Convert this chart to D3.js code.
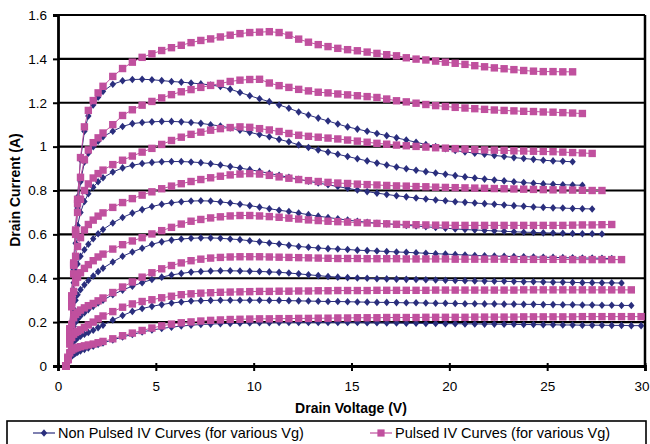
<!DOCTYPE html>
<html><head><meta charset="utf-8">
<script src="https://cdn.jsdelivr.net/npm/d3@7"></script>
<style>
body{margin:0;background:#fff;}
svg{display:block;font-family:"Liberation Sans",Arial,sans-serif;}
</style>
</head><body>
<svg id="c" width="650" height="444"></svg>
<script>
// Drain voltage grid (V)
const vd = [0.4,0.5,0.6,0.7,0.8,0.9,1.0,1.15,1.35,1.55,1.8,2.05,2.3,
  2.8,3.3,3.8,4.3,4.8,5.3,5.8,6.3,6.8,7.3,7.8,8.3,8.8,9.3,9.8,10.3,10.8,11.3,11.8,12.3,
  12.8,13.3,13.8,14.3,14.8,15.3,15.8,16.3,16.8,17.3,17.8,18.3,18.8,19.3,19.8,20.3,20.8,
  21.3,21.8,22.3,22.8,23.3,23.8,24.3,24.8,25.3,25.8,26.3,26.8,27.3,27.8,28.3,28.8,29.3,29.8];

const xTicks = [0,5,10,15,20,25,30];
const yTicks = [0,0.2,0.4,0.6,0.8,1.0,1.2,1.4,1.6];

// Non pulsed IV curves (A), one list per Vg
const np1 = [0,0.03,0.17,0.32,0.47,0.62,0.77,0.94,1.07,1.14,1.19,1.225,1.252,
  1.284,1.3,1.306,1.307,1.305,1.301,1.297,1.294,1.29,1.286,1.281,1.274,1.262,1.247,1.232,1.218,1.205,1.19,1.175,1.158,
  1.144,1.13,1.117,1.103,1.09,1.08,1.07,1.06,1.05,1.04,1.03,1.02,1.01,1.0,0.99,0.982,0.976,0.97,0.965,0.96,
  0.955,0.95,0.946,0.942,0.938,0.935,0.933,0.931];
const np2 = [0,0.03,0.16,0.31,0.46,0.6,0.72,0.84,0.93,0.97,1.0,1.025,1.045,
  1.07,1.092,1.105,1.11,1.113,1.115,1.115,1.113,1.11,1.106,1.1,1.094,1.085,1.075,1.065,1.055,1.045,1.033,1.022,1.008,
  0.996,0.985,0.975,0.965,0.955,0.945,0.935,0.925,0.916,0.907,0.899,0.892,0.886,0.88,0.874,0.868,0.862,0.857,0.852,0.848,
  0.844,0.84,0.836,0.833,0.83,0.828,0.826,0.825,0.824];
const np3 = [0,0.03,0.15,0.3,0.44,0.56,0.64,0.7,0.75,0.785,0.815,0.84,0.858,
  0.884,0.903,0.915,0.923,0.928,0.931,0.932,0.932,0.93,0.927,0.922,0.916,0.909,0.902,0.895,0.887,0.878,0.869,0.86,0.851,
  0.842,0.834,0.826,0.818,0.81,0.802,0.795,0.788,0.782,0.776,0.771,0.766,0.761,0.757,0.753,0.749,0.746,0.743,0.74,0.737,
  0.734,0.731,0.728,0.725,0.723,0.721,0.72,0.718,0.717,0.716];
const np4 = [0,0.03,0.14,0.28,0.38,0.43,0.465,0.5,0.53,0.555,0.58,0.603,0.622,
  0.652,0.677,0.697,0.713,0.727,0.737,0.744,0.749,0.752,0.753,0.752,0.748,0.743,0.737,0.731,0.724,0.717,0.71,0.704,0.697,
  0.69,0.683,0.677,0.671,0.665,0.66,0.655,0.651,0.648,0.645,0.641,0.638,0.635,0.631,0.628,0.625,0.622,0.62,0.618,0.616,
  0.614,0.612,0.61,0.609,0.607,0.606,0.605,0.604,0.603,0.603,0.602];
const np5 = [0,0.03,0.12,0.2,0.26,0.3,0.325,0.348,0.37,0.39,0.41,0.43,0.446,
  0.474,0.5,0.52,0.537,0.555,0.566,0.574,0.579,0.582,0.584,0.584,0.582,0.579,0.576,0.571,0.566,0.561,0.556,0.55,0.545,
  0.541,0.538,0.535,0.533,0.531,0.528,0.526,0.524,0.522,0.52,0.518,0.516,0.514,0.512,0.51,0.508,0.506,0.504,0.502,0.501,
  0.5,0.499,0.498,0.497,0.496,0.495,0.494,0.493,0.492,0.492,0.491,0.49];
const np6 = [0,0.03,0.1,0.15,0.18,0.2,0.213,0.228,0.243,0.257,0.272,0.287,0.3,
  0.325,0.346,0.364,0.38,0.394,0.405,0.415,0.422,0.428,0.431,0.433,0.434,0.434,0.433,0.432,0.431,0.429,0.427,0.424,0.42,
  0.416,0.412,0.408,0.405,0.403,0.401,0.4,0.398,0.397,0.396,0.395,0.394,0.393,0.392,0.391,0.39,0.389,0.388,0.387,0.386,
  0.386,0.385,0.384,0.384,0.383,0.382,0.382,0.381,0.38,0.38,0.379,0.379,0.378];
const np7 = [0,0.03,0.07,0.095,0.11,0.12,0.128,0.136,0.145,0.153,0.163,0.175,0.186,
  0.21,0.23,0.249,0.262,0.272,0.28,0.287,0.292,0.296,0.298,0.299,0.3,0.3,0.3,0.3,0.3,0.299,0.299,0.298,0.297,
  0.296,0.295,0.294,0.294,0.293,0.292,0.291,0.29,0.29,0.289,0.288,0.288,0.287,0.286,0.286,0.285,0.284,0.284,0.283,0.283,
  0.282,0.282,0.281,0.281,0.28,0.28,0.279,0.279,0.278,0.278,0.277,0.277,0.276,0.276];
const np8 = [0,0.02,0.035,0.045,0.052,0.058,0.063,0.069,0.076,0.082,0.09,0.098,0.105,
  0.119,0.132,0.144,0.155,0.164,0.171,0.177,0.182,0.186,0.189,0.191,0.193,0.194,0.195,0.196,0.197,0.197,0.198,0.198,0.198,
  0.198,0.198,0.198,0.198,0.198,0.198,0.197,0.197,0.196,0.196,0.195,0.195,0.194,0.194,0.193,0.193,0.192,0.192,0.191,0.191,
  0.19,0.19,0.189,0.189,0.188,0.188,0.187,0.187,0.186,0.186,0.186,0.185,0.185,0.184,0.184];

// Pulsed IV curves (A)
const p1 = [0,0.04,0.17,0.32,0.47,0.62,0.76,0.95,1.09,1.165,1.21,1.245,1.275,
  1.32,1.356,1.385,1.407,1.423,1.438,1.451,1.462,1.474,1.484,1.491,1.5,1.508,1.515,1.52,1.522,1.524,1.52,1.508,1.49,
  1.476,1.465,1.456,1.448,1.442,1.437,1.431,1.425,1.419,1.414,1.405,1.399,1.395,1.39,1.385,1.38,1.375,1.369,1.364,1.359,
  1.355,1.351,1.347,1.344,1.342,1.342,1.341,1.341];
const p2 = [0,0.03,0.16,0.31,0.46,0.61,0.74,0.86,0.94,0.985,1.018,1.04,1.062,
  1.1,1.142,1.168,1.189,1.206,1.222,1.237,1.25,1.26,1.27,1.279,1.288,1.297,1.303,1.306,1.307,1.29,1.278,1.27,1.261,
  1.254,1.248,1.245,1.24,1.236,1.232,1.228,1.224,1.217,1.209,1.204,1.198,1.192,1.187,1.183,1.179,1.176,1.173,1.17,1.167,
  1.165,1.163,1.161,1.16,1.158,1.157,1.155,1.153,1.151];
const p3 = [0,0.03,0.16,0.31,0.46,0.6,0.7,0.76,0.8,0.83,0.857,0.877,0.893,
  0.918,0.938,0.957,0.975,0.992,1.01,1.028,1.043,1.056,1.066,1.075,1.082,1.087,1.09,1.088,1.082,1.076,1.069,1.06,1.052,
  1.047,1.043,1.039,1.035,1.03,1.025,1.02,1.015,1.011,1.007,1.004,1.001,0.998,0.995,0.993,0.991,0.989,0.987,0.985,0.984,
  0.983,0.981,0.98,0.979,0.978,0.977,0.975,0.973,0.971,0.969];
const p4 = [0,0.03,0.15,0.29,0.42,0.5,0.545,0.585,0.62,0.645,0.665,0.683,0.698,
  0.723,0.745,0.763,0.779,0.794,0.808,0.82,0.831,0.841,0.85,0.858,0.865,0.871,0.875,0.877,0.875,0.869,0.862,0.856,0.85,
  0.845,0.841,0.837,0.834,0.832,0.829,0.827,0.825,0.823,0.821,0.82,0.818,0.817,0.815,0.814,0.813,0.812,0.811,0.81,0.809,
  0.808,0.807,0.806,0.805,0.804,0.803,0.803,0.802,0.801,0.8,0.8];
const p5 = [0,0.03,0.13,0.27,0.34,0.38,0.405,0.425,0.445,0.462,0.48,0.497,0.51,
  0.533,0.553,0.57,0.585,0.602,0.617,0.632,0.647,0.66,0.668,0.675,0.68,0.684,0.686,0.686,0.684,0.681,0.678,0.674,0.67,
  0.666,0.663,0.66,0.658,0.656,0.654,0.652,0.65,0.648,0.646,0.645,0.644,0.643,0.642,0.642,0.641,0.641,0.641,0.641,0.641,
  0.641,0.641,0.641,0.641,0.641,0.641,0.641,0.642,0.643,0.643,0.644,0.645];
const p6 = [0,0.03,0.12,0.19,0.22,0.235,0.245,0.255,0.265,0.275,0.285,0.297,0.31,
  0.335,0.36,0.383,0.405,0.425,0.443,0.458,0.47,0.48,0.487,0.492,0.495,0.497,0.498,0.498,0.498,0.497,0.496,0.495,0.494,
  0.493,0.492,0.491,0.49,0.49,0.49,0.489,0.489,0.489,0.489,0.488,0.488,0.488,0.488,0.488,0.487,0.487,0.487,0.487,0.487,
  0.487,0.486,0.486,0.486,0.486,0.486,0.486,0.485,0.485,0.485,0.485,0.485,0.485];
const p7 = [0,0.03,0.1,0.13,0.145,0.153,0.158,0.165,0.175,0.187,0.2,0.215,0.228,
  0.248,0.268,0.283,0.294,0.302,0.311,0.318,0.325,0.329,0.332,0.334,0.336,0.337,0.338,0.339,0.34,0.34,0.341,0.341,0.342,
  0.342,0.343,0.343,0.344,0.344,0.344,0.344,0.345,0.345,0.345,0.345,0.345,0.345,0.346,0.346,0.346,0.346,0.346,0.346,0.346,
  0.346,0.346,0.347,0.347,0.347,0.347,0.347,0.347,0.347,0.347,0.347,0.347,0.347,0.347];
const p8 = [0,0.03,0.06,0.072,0.078,0.082,0.085,0.088,0.092,0.096,0.1,0.106,0.112,
  0.124,0.138,0.15,0.162,0.173,0.183,0.191,0.197,0.201,0.205,0.208,0.21,0.212,0.213,0.214,0.215,0.215,0.216,0.216,0.217,
  0.217,0.218,0.218,0.219,0.219,0.22,0.22,0.22,0.221,0.221,0.221,0.221,0.222,0.222,0.222,0.222,0.222,0.223,0.223,0.223,
  0.223,0.223,0.224,0.224,0.224,0.224,0.224,0.224,0.225,0.225,0.225,0.225,0.225,0.225,0.225];

const nonPulsed = [np1,np2,np3,np4,np5,np6,np7,np8];
const pulsed = [p1,p2,p3,p4,p5,p6,p7,p8];
const seriesNames = ["Non Pulsed IV Curves (for various Vg)","Pulsed IV Curves (for various Vg)"];

const BLUE = "#2a2e7d", MAG = "#c0509e";
const svg = d3.select("#c");
const L = 58, R = 645, T = 15, B = 366;
const x = d3.scaleLinear().domain([0,30]).range([L,R]);
const y = d3.scaleLinear().domain([0,1.6]).range([B,T]);

// gridlines
svg.append("g").selectAll("line").data(yTicks.filter(d=>d>0)).join("line")
  .attr("x1",L).attr("x2",R).attr("y1",d=>y(d)).attr("y2",d=>y(d))
  .attr("stroke","#000").attr("stroke-width",2.2);
// frame right
svg.append("line").attr("x1",R).attr("x2",R).attr("y1",T).attr("y2",B).attr("stroke","#000").attr("stroke-width",2.5);

// axes
const fmt = d => String(+d.toFixed(1));
const ya = svg.append("g").attr("transform",`translate(${L},0)`)
  .call(d3.axisLeft(y).tickValues(yTicks).tickFormat(fmt).tickSize(5).tickPadding(6));
const xa = svg.append("g").attr("transform",`translate(0,${B})`)
  .call(d3.axisBottom(x).tickValues(xTicks).tickFormat(fmt).tickSize(5).tickPadding(10));
[ya,xa].forEach(g=>{
  g.select(".domain").attr("stroke","#000").attr("stroke-width",2.8);
  g.selectAll(".tick line").attr("stroke","#000").attr("stroke-width",2);
  g.selectAll(".tick text").attr("fill","#000").style("font-size","13.5px")
   .style("font-family","'Liberation Sans',Arial,sans-serif");
});
xa.selectAll(".tick line").attr("y1",-3).attr("y2",5);
// keep the last x label inside the page
xa.selectAll(".tick text").filter(d=>d===30).attr("text-anchor","end").attr("x",4);

// axis titles
svg.append("text").attr("x",351).attr("y",413).attr("text-anchor","middle")
  .style("font-weight","bold").style("font-size","14px").text("Drain Voltage (V)");
svg.append("text").attr("transform","translate(20,190) rotate(-90)").attr("text-anchor","middle")
  .style("font-weight","bold").style("font-size","14px").text("Drain Current (A)");

const diamond = "M0,-3.8L3.2,0L0,3.8L-3.2,0Z";
const line = d3.line().x((d,i)=>x(vd[i])).y(d=>y(d));

function drawFamily(data, color, isSquare){
  const g = svg.append("g");
  data.forEach(arr=>{
    g.append("path").attr("d",line(arr)).attr("fill","none").attr("stroke",color).attr("stroke-width",1);
    const mk = g.append("g").selectAll("x").data(arr).join(isSquare?"rect":"path");
    if(isSquare){
      mk.attr("x",(d,i)=>x(vd[i])-3.7).attr("y",d=>y(d)-3.7).attr("width",7.4).attr("height",7.4)
        .attr("fill",color);
    } else {
      mk.attr("d",diamond).attr("transform",(d,i)=>`translate(${x(vd[i])},${y(d)})`).attr("fill",color);
    }
  });
}
drawFamily(nonPulsed, BLUE, false);
drawFamily(pulsed, MAG, true);

// legend
const lg = svg.append("g");
lg.append("rect").attr("x",7).attr("y",421).attr("width",639).attr("height",40)
  .attr("fill","none").attr("stroke","#000").attr("stroke-width",1.6);
const items = [{x:33, color:BLUE, sq:false},{x:370, color:MAG, sq:true}];
items.forEach((it,k)=>{
  lg.append("line").attr("x1",it.x).attr("x2",it.x+22).attr("y1",433).attr("y2",433)
    .attr("stroke",it.color).attr("stroke-width",1.2);
  if(it.sq) lg.append("rect").attr("x",it.x+11-3.6).attr("y",433-3.6).attr("width",7.2).attr("height",7.2).attr("fill",it.color);
  else lg.append("path").attr("d",diamond).attr("transform",`translate(${it.x+11},433)`).attr("fill",it.color);
  lg.append("text").attr("x",it.x+25).attr("y",433).attr("dy","0.36em")
    .style("font-size","14.5px").text(seriesNames[k]);
});
</script>
</body></html>
